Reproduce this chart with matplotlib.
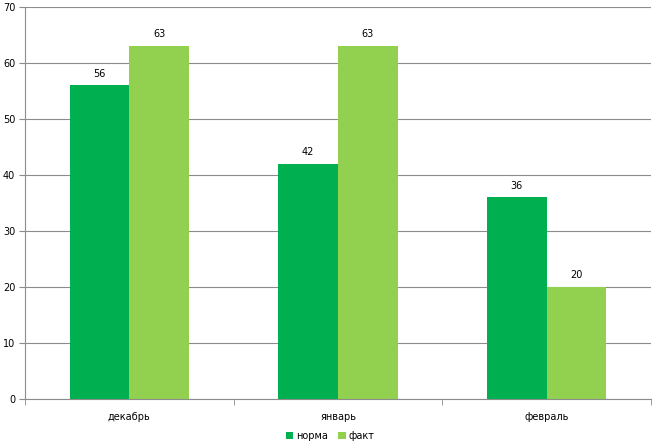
import matplotlib
matplotlib.use("Agg")
import matplotlib.pyplot as plt
import numpy as np

months = ["декабрь", "январь", "февраль"]
norma = [56, 42, 36]
fakt = [63, 63, 20]
series_names = ["норма", "факт"]
yticks = [0, 10, 20, 30, 40, 50, 60, 70]

plt.rcParams['font.family'] = ['DejaVu Sans']

fig = plt.figure(figsize=(6.6, 4.48), dpi=100, facecolor='white')
ax = fig.add_axes([25/660, 49/448, 626/660, 392/448])

x = np.arange(len(months))
w = 1/3.5
b1 = ax.bar(x - w/2, norma, w, color='#00B050', label=series_names[0])
b2 = ax.bar(x + w/2, fakt, w, color='#92D050', label=series_names[1])

for bars, vals in ((b1, norma), (b2, fakt)):
    for r, v in zip(bars, vals):
        ax.text(r.get_x() + r.get_width()/2, v + 1.2, str(v), ha='center', va='bottom', fontsize=7)

ax.set_xlim(-0.5, 2.5)
ax.set_ylim(0, 70)
ax.set_yticks(yticks)
ax.yaxis.grid(True, color='#8c8c8c', linewidth=0.8)
ax.set_axisbelow(True)
ax.set_xticks(x)
ax.set_xticklabels(months, fontsize=7)
ax.set_xticks(np.arange(-0.5, 3, 1), minor=True)
ax.tick_params(axis='x', which='major', length=0, pad=9)
ax.tick_params(axis='x', which='minor', length=4, color='#8c8c8c')
ax.tick_params(axis='y', length=4, color='#8c8c8c', labelsize=7, pad=3)

for s in ['top', 'right']:
    ax.spines[s].set_visible(False)
for s in ['left', 'bottom']:
    ax.spines[s].set_color('#8c8c8c')

fig.legend(handles=[b1, b2], loc='center', bbox_to_anchor=(0.5, 12/448), ncol=2,
           frameon=False, fontsize=7, handlelength=0.8, handleheight=0.8,
           handletextpad=0.3, columnspacing=1.0)

fig.savefig('out.png', dpi=100, facecolor='white')
